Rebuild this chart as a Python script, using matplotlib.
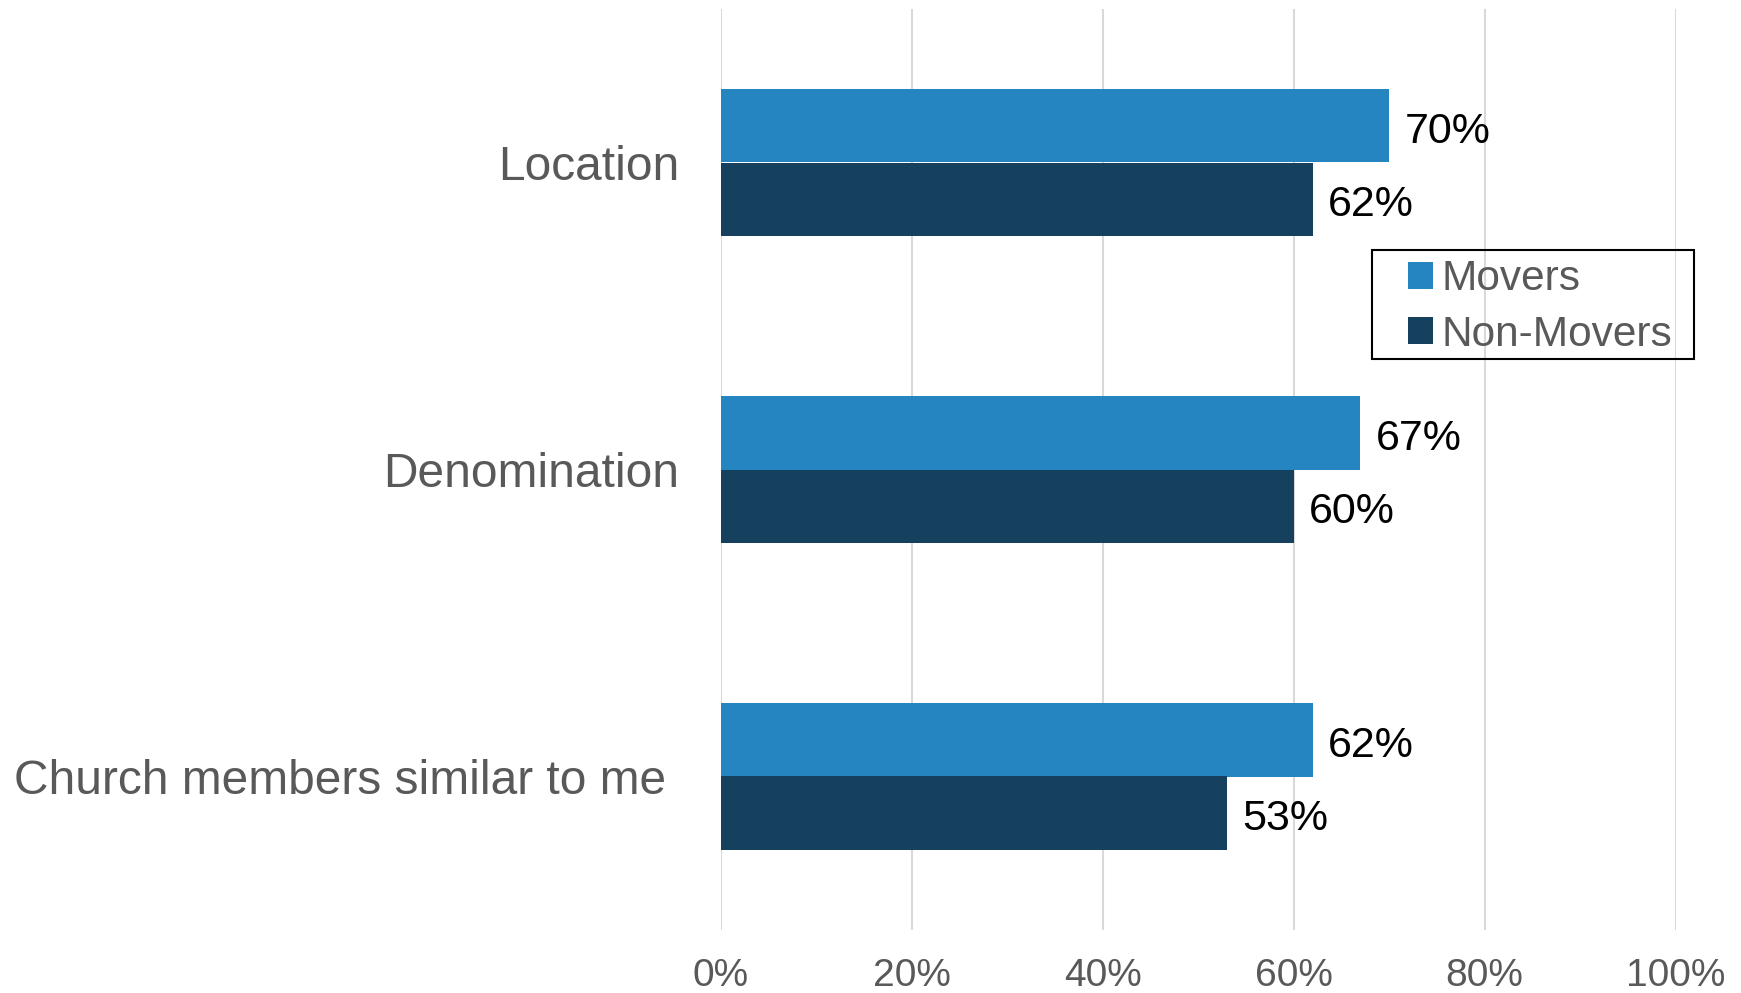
import matplotlib.pyplot as plt
from matplotlib.patches import Rectangle
import numpy as np

categories = ["Location", "Denomination", "Church members similar to me "]
movers = [70, 67, 62]
non_movers = [62, 60, 53]
series_names = ["Movers", "Non-Movers"]
x_ticks = [0, 20, 40, 60, 80, 100]

c_movers = "#2585C0"
c_non = "#15415F"
grey = "#595959"

plt.rcParams["font.family"] = ["Liberation Sans", "DejaVu Sans"]

W, H = 1741, 993
fig = plt.figure(figsize=(W / 100, H / 100), dpi=100)
ax = fig.add_axes([720.6 / W, 1 - 930 / H, 955 / W, 921 / H])

y = np.arange(len(categories))
h = 0.238
b1 = ax.barh(y - h / 2, movers, height=h, color=c_movers, label=series_names[0])
b2 = ax.barh(y + h / 2, non_movers, height=h, color=c_non, label=series_names[1])

for bars, vals in ((b1, movers), (b2, non_movers)):
    for bar, v in zip(bars, vals):
        ax.annotate(f"{v}%", (v, bar.get_y() + bar.get_height() / 2),
                    xytext=(11, -4), textcoords="offset points",
                    va="center", ha="left", fontsize=31, color="black")

ax.set_xlim(0, 100)
ax.set_ylim(2.5, -0.5)
ax.set_xticks(x_ticks)
ax.set_xticklabels([f"{t}%" for t in x_ticks], fontsize=28, color=grey,
                   family=["Liberation Sans Narrow", "Liberation Sans"])
ax.set_yticks(y)
ax.set_yticklabels(categories, fontsize=34.5, color=grey)
ax.tick_params(axis="both", length=0)
ax.tick_params(axis="y", pad=30)
ax.tick_params(axis="x", pad=20)
ax.xaxis.grid(True, color="#D9D9D9", linewidth=1.5)
ax.set_axisbelow(True)
for s in ax.spines.values():
    s.set_visible(False)

# legend entries without frame, box drawn separately for wider side padding
leg = fig.legend(handles=[b1, b2], loc="upper left",
                 bbox_to_anchor=(1408 / W, 1 - 259.5 / H), borderaxespad=0,
                 fontsize=30.5, frameon=False, borderpad=0,
                 handlelength=0.6, handleheight=0.6,
                 handletextpad=0.18, labelspacing=0.36)
for t in leg.get_texts():
    t.set_color(grey)
fig.add_artist(Rectangle((1372 / W, 1 - 359 / H), 322 / W, 109 / H,
                         transform=fig.transFigure, fill=False,
                         edgecolor="black", linewidth=1.5))

fig.savefig("out.png", dpi=100, facecolor="white")
